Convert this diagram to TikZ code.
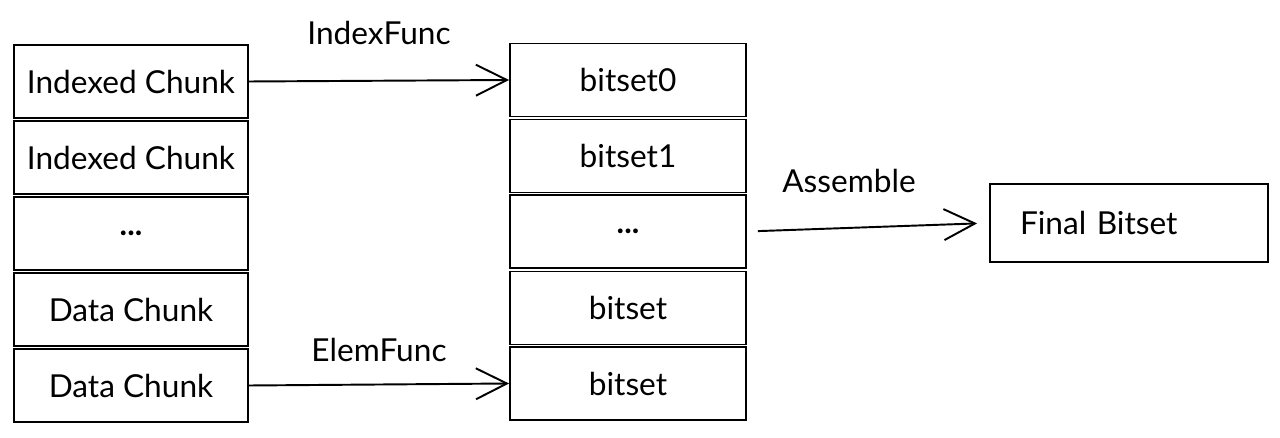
\documentclass[tikz,border=0pt]{standalone}
\usepackage{fontspec}
\setmainfont{Lato}
\usetikzlibrary{arrows.meta}
\begin{document}
\begin{tikzpicture}[x=0.02cm,y=-0.02cm,font=\fontsize{18}{21}\selectfont,
  chunk/.style={draw,line width=1.1pt,minimum width=4.68cm,minimum height=1.46cm,inner sep=0pt},
  bits/.style={draw,line width=1.1pt,minimum width=4.72cm,minimum height=1.46cm,inner sep=0pt},
  flow/.style={-{Straight Barb[length=0.62cm,width=0.62cm,line width=1.1pt]},line width=1.1pt}]
\useasboundingbox (0,0) rectangle (1280,438);

%left column
\node[chunk] (c0) at (131,81.5) {Indexed Chunk};
\node[chunk] (c1) at (131,157.5) {Indexed Chunk};
\node[chunk] (c2) at (131,233.5) {\textbf{...}};
\node[chunk] (c3) at (131,309.5) {Data Chunk};
\node[chunk] (c4) at (131,385.5) {Data Chunk};

%bitsets
\node[bits] (b0) at (628,80) {bitset0};
\node[bits] (b1) at (628,156) {bitset1};
\node[bits] (b2) at (628,231.5) {\textbf{...}};
\node[bits] (b3) at (628,308) {bitset};
\node[bits] (b4) at (628,383.5) {bitset};

\node[draw,line width=1.1pt,minimum width=5.56cm,minimum height=1.56cm,inner xsep=0.6cm,text width=4.36cm,align=left] (final) at (1129,223) {Final Bitset};

\draw[flow] (c0.east) -- node[above=0.58cm] (indexfunc) {IndexFunc} (b0.west);
\draw[flow] (c4.east) -- node[above=0.32cm] (elemfunc) {ElemFunc} (b4.west);
\draw[flow,shorten <=0.22cm,shorten >=0.24cm] (b2.east) -- node[above=0.56cm,xshift=-0.38cm] (assemble) {Assemble} (final.west);
\end{tikzpicture}
\end{document}
